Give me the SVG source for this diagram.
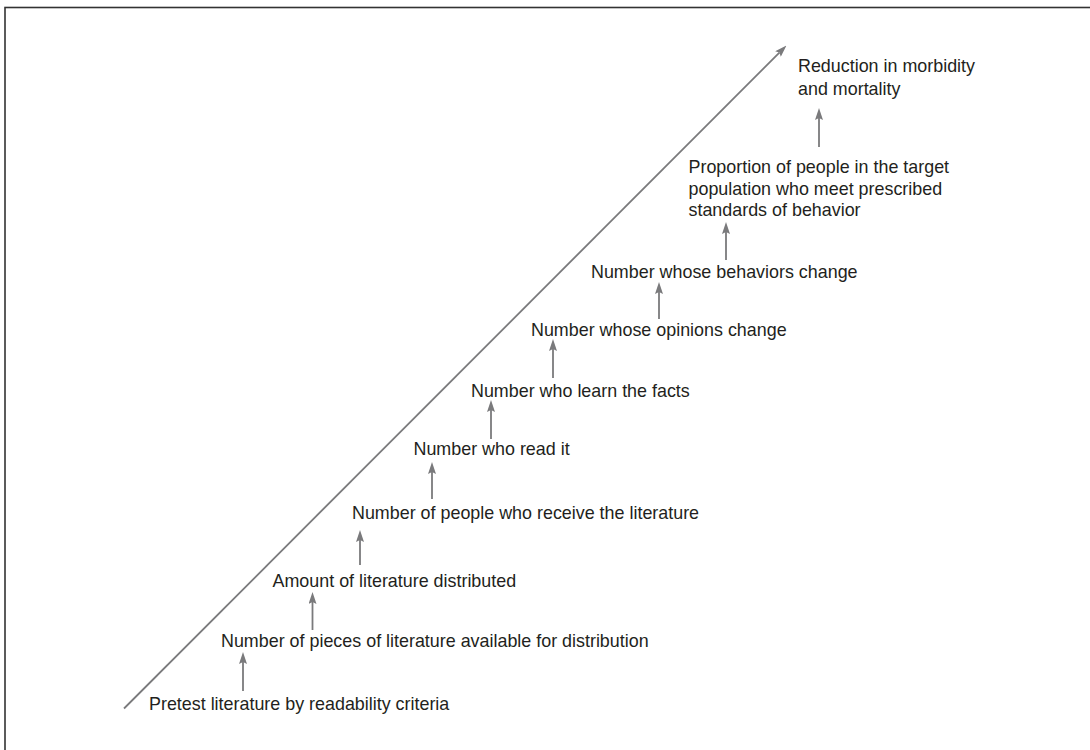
<svg xmlns="http://www.w3.org/2000/svg" width="1090" height="750" viewBox="0 0 1090 750">
  <defs>
    <marker id="head" markerUnits="userSpaceOnUse" markerWidth="12" markerHeight="8" viewBox="0 0 12 8" refX="2" refY="4" orient="auto">
      <path d="M0,0 L12,4 L0,8 L2,4 Z" fill="#7a7a7c"/>
    </marker>
    <style>
      .lbl { font-family: "Liberation Sans", Arial, Helvetica, sans-serif; font-size: 17.9px; fill: #231f20; }
      .arr { stroke: #7a7a7c; stroke-width: 1.8; fill: none; marker-end: url(#head); }
    </style>
  </defs>
  <rect x="0" y="0" width="1090" height="750" fill="#ffffff"/>
  <!-- frame -->
  <rect x="5" y="7.5" width="1100" height="760" fill="none" stroke="#333333" stroke-width="1.6"/>

  <!-- rising trend line -->
  <g id="trend">
    <line class="arr" x1="124" y1="708.5" x2="779.4" y2="52.6" stroke-width="2"/>
  </g>

  <!-- steps -->
  <g id="n1"><text class="lbl" x="149" y="709.5">Pretest literature by readability criteria</text></g>
  <g id="n2"><text class="lbl" x="221" y="646.5">Number of pieces of literature available for distribution</text></g>
  <g id="n3"><text class="lbl" x="272.5" y="587">Amount of literature distributed</text></g>
  <g id="n4"><text class="lbl" x="352" y="518.5">Number of people who receive the literature</text></g>
  <g id="n5"><text class="lbl" x="413.5" y="455">Number who read it</text></g>
  <g id="n6"><text class="lbl" x="471" y="397">Number who learn the facts</text></g>
  <g id="n7"><text class="lbl" x="531" y="335.5">Number whose opinions change</text></g>
  <g id="n8"><text class="lbl" x="591" y="277.5">Number whose behaviors change</text></g>
  <g id="n9">
    <text class="lbl" x="688.5" y="172.5">Proportion of people in the target</text>
    <text class="lbl" x="688.5" y="194.5">population who meet prescribed</text>
    <text class="lbl" x="688.5" y="216">standards of behavior</text>
  </g>
  <g id="n10">
    <text class="lbl" x="798" y="72">Reduction in morbidity</text>
    <text class="lbl" x="798" y="95">and mortality</text>
  </g>

  <!-- connectors between steps -->
  <g id="connectors">
    <line class="arr" x1="243" y1="691" x2="243" y2="662"/>
    <line class="arr" x1="312.5" y1="630" x2="312.5" y2="602"/>
    <line class="arr" x1="360" y1="565" x2="360" y2="540"/>
    <line class="arr" x1="432" y1="499" x2="432" y2="472"/>
    <line class="arr" x1="491" y1="439" x2="491" y2="410"/>
    <line class="arr" x1="553" y1="378" x2="553" y2="349"/>
    <line class="arr" x1="659" y1="319" x2="659" y2="292"/>
    <line class="arr" x1="726" y1="260" x2="726" y2="232"/>
    <line class="arr" x1="819" y1="147" x2="819" y2="118"/>
  </g>
</svg>
